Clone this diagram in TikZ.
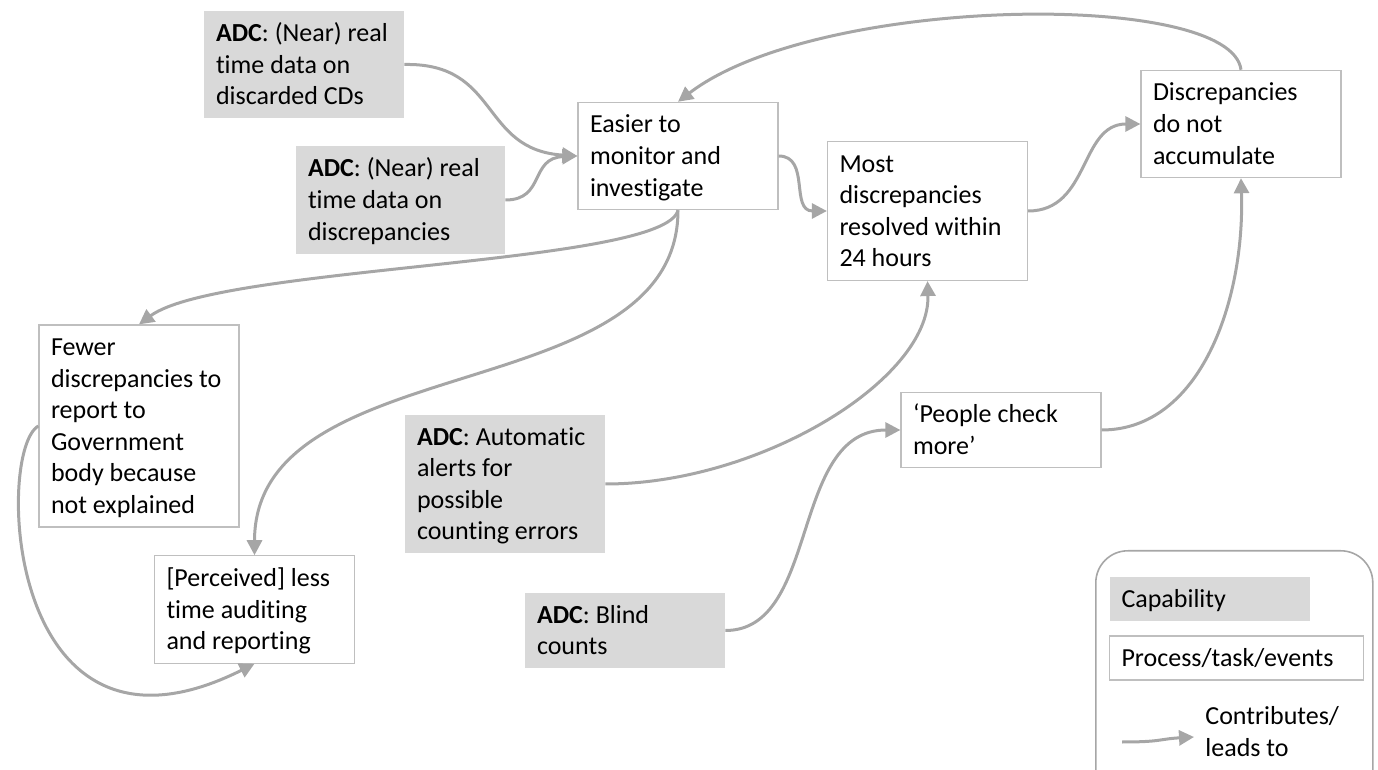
\documentclass[tikz,border=0pt]{standalone}
\usepackage{fontspec}
\setmainfont{Carlito}[Ligatures=NoCommon]
\usepackage{xcolor}
\usetikzlibrary{arrows.meta,positioning}

\definecolor{capgray}{HTML}{D9D9D9}
\definecolor{boxline}{HTML}{BFBFBF}
\definecolor{flowgray}{HTML}{A6A6A6}

\newcommand\topstrut{\rule{0pt}{13.3pt}}
\newcommand\botstrut{\rule[-4.75pt]{0pt}{4.75pt}}

\begin{document}
\begin{tikzpicture}[x=0.5pt,y=-0.5pt]
  \tikzstyle{boxbase}=[rectangle, minimum width=100pt, text width=88pt, inner xsep=6pt, inner ysep=2pt, align=flush left, font=\fontsize{13}{15.8}\selectfont\frenchspacing, execute at begin node=\topstrut, execute at end node=\botstrut]
  \tikzstyle{capbox}=[boxbase, fill=capgray]
  \tikzstyle{procbox}=[boxbase, draw=boxline, line width=0.6pt, fill=white]
  \tikzstyle{flow}=[draw=flowgray, line width=1.5pt, -{Triangle[length=7.5pt,width=7.5pt]}]

  \useasboundingbox (0,0) rectangle (1378,770);

  \node[capbox] (a1) at (304,64.5) {\textbf{ADC}: (Near) real\\time data on\\discarded CDs};
  \node[capbox, minimum width=104.5pt, text width=92.5pt] (a2) at (400.5,200) {\textbf{ADC}: (Near) real\\time data on\\discrepancies};
  \node[procbox] (ease) at (678,156) {Easier to\\monitor and\\investigate};
  \node[procbox] (most) at (927.5,211) {Most\\discrepancies\\resolved within\\24 hours};
  \node[procbox] (disc) at (1241,124) {Discrepancies\\do not\\accumulate};
  \node[procbox] (fewer) at (139,426) {Fewer\\discrepancies to\\report to\\Government\\body because\\not explained};
  \node[procbox] (perc) at (254.5,609.5) {[Perceived] less\\time auditing\\and reporting};
  \node[capbox] (alert) at (505,484) {\textbf{ADC}: Automatic\\alerts for\\possible\\counting errors};
  \node[procbox] (check) at (1001,430) {‘People check\\more’};
  \node[capbox] (blind) at (625,630.5) {\textbf{ADC}: Blind\\counts};

  \draw[flow] (a1.east) .. controls +(96,-2) and +(-98,-6) .. (ease.west);
  \draw[flow] (a2.east) .. controls +(40,0) and +(-48,2) .. (ease.west);
  \draw[flow] (disc.north) .. controls +(-10,-80) and +(140,-107) .. (ease.north);
  \draw[flow] (ease.east) .. controls +(32,0) and +(-37,0) .. (most.west);
  \draw[flow] (most.east) .. controls +(62,0) and +(-61,0) .. (disc.west);
  \draw[flow] (ease.south) .. controls +(-13,55) and +(80,-59) .. (fewer.north);
  \draw[flow] (ease.south) .. controls +(0,200) and +(0,-210) .. (perc.north);
  \draw[flow] (fewer.west) .. controls +(-43,24) and +(-250,125) .. (perc.south);
  \draw[flow] (alert.east) .. controls +(155,0) and +(3,98) .. (most.south);
  \draw[flow] (blind.east) .. controls +(95,0) and +(-111,0) .. (check.west);
  \draw[flow] (check.east) .. controls +(99,0) and +(4,122) .. (disc.south);

  % legend
  \node[draw=flowgray, line width=0.8pt, rounded corners=16pt, minimum width=138.5pt, minimum height=130pt, anchor=north west] (legend) at (1095,550) {};
  \node[capbox] (lcap) at (1209.5,599) {Capability};
  \node[procbox, minimum width=127pt, text width=115pt] (lproc) at (1236.5,658) {Process/task/events};
  \node[align=flush left, font=\fontsize{13}{15.8}\selectfont, anchor=north west, inner sep=0pt] (lflow) at (1205,706) {Contributes/\\leads to};
  \coordinate (la) at (1122,742);
  \coordinate (lb) at (1194,737);
  \draw[flow] (la) .. controls +(40,0) and +(-35,2) .. (lb);
\end{tikzpicture}
\end{document}
